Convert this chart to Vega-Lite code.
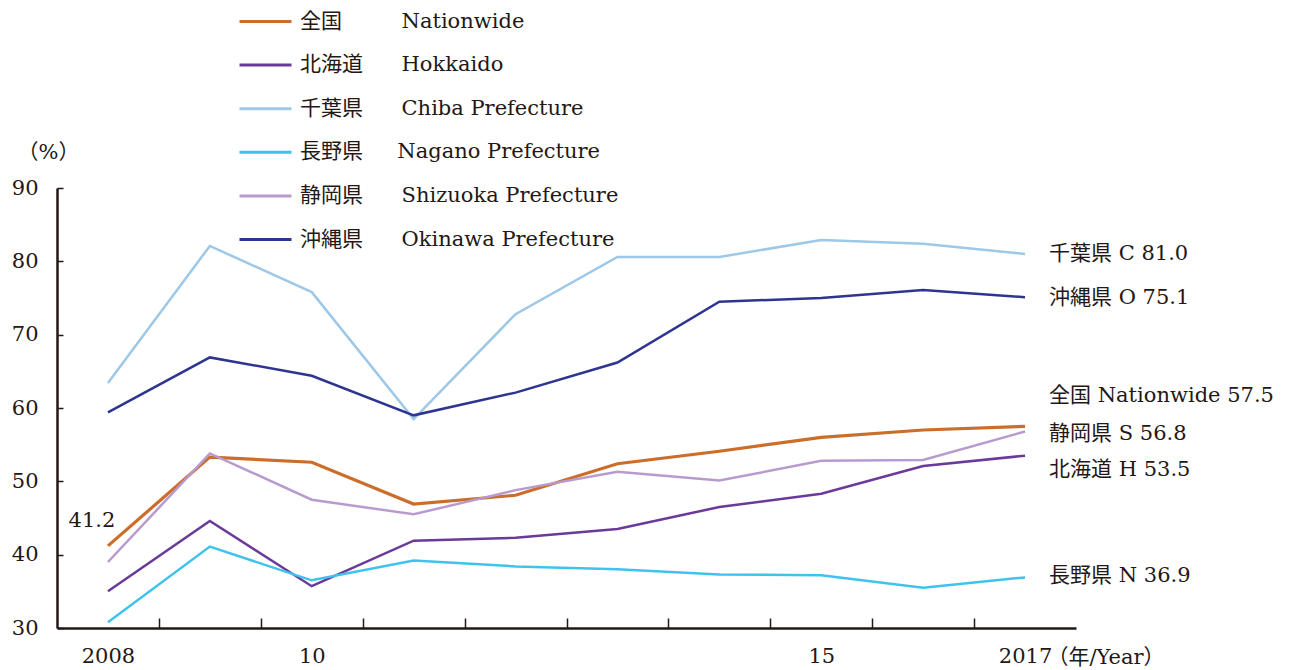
{
  "$schema": "https://vega.github.io/schema/vega-lite/v6.json",
  "width": 1019,
  "height": 440,
  "autosize": {"type": "none"},
  "padding": {"left": 57, "top": 188, "right": 224, "bottom": 42},
  "background": "white",
  "config": {
    "font": "DejaVu Serif, Noto Sans CJK JP",
    "view": {"stroke": null},
    "text": {"color": "#231815"}
  },
  "datasets": {
    "main": [
      {"year": 2008, "series": "全国", "value": 41.2},
      {"year": 2009, "series": "全国", "value": 53.3},
      {"year": 2010, "series": "全国", "value": 52.6},
      {"year": 2011, "series": "全国", "value": 46.9},
      {"year": 2012, "series": "全国", "value": 48.1},
      {"year": 2013, "series": "全国", "value": 52.4},
      {"year": 2014, "series": "全国", "value": 54.1},
      {"year": 2015, "series": "全国", "value": 56.0},
      {"year": 2016, "series": "全国", "value": 57.0},
      {"year": 2017, "series": "全国", "value": 57.5},
      {"year": 2008, "series": "北海道", "value": 35.0},
      {"year": 2009, "series": "北海道", "value": 44.6},
      {"year": 2010, "series": "北海道", "value": 35.7},
      {"year": 2011, "series": "北海道", "value": 41.9},
      {"year": 2012, "series": "北海道", "value": 42.3},
      {"year": 2013, "series": "北海道", "value": 43.5},
      {"year": 2014, "series": "北海道", "value": 46.5},
      {"year": 2015, "series": "北海道", "value": 48.3},
      {"year": 2016, "series": "北海道", "value": 52.1},
      {"year": 2017, "series": "北海道", "value": 53.5},
      {"year": 2008, "series": "千葉県", "value": 63.4},
      {"year": 2009, "series": "千葉県", "value": 82.1},
      {"year": 2010, "series": "千葉県", "value": 75.8},
      {"year": 2011, "series": "千葉県", "value": 58.5},
      {"year": 2012, "series": "千葉県", "value": 72.8},
      {"year": 2013, "series": "千葉県", "value": 80.6},
      {"year": 2014, "series": "千葉県", "value": 80.6},
      {"year": 2015, "series": "千葉県", "value": 82.9},
      {"year": 2016, "series": "千葉県", "value": 82.4},
      {"year": 2017, "series": "千葉県", "value": 81.0},
      {"year": 2008, "series": "長野県", "value": 30.8},
      {"year": 2009, "series": "長野県", "value": 41.1},
      {"year": 2010, "series": "長野県", "value": 36.5},
      {"year": 2011, "series": "長野県", "value": 39.2},
      {"year": 2012, "series": "長野県", "value": 38.4},
      {"year": 2013, "series": "長野県", "value": 38.0},
      {"year": 2014, "series": "長野県", "value": 37.3},
      {"year": 2015, "series": "長野県", "value": 37.2},
      {"year": 2016, "series": "長野県", "value": 35.5},
      {"year": 2017, "series": "長野県", "value": 36.9},
      {"year": 2008, "series": "静岡県", "value": 39.0},
      {"year": 2009, "series": "静岡県", "value": 53.8},
      {"year": 2010, "series": "静岡県", "value": 47.5},
      {"year": 2011, "series": "静岡県", "value": 45.5},
      {"year": 2012, "series": "静岡県", "value": 48.8},
      {"year": 2013, "series": "静岡県", "value": 51.3},
      {"year": 2014, "series": "静岡県", "value": 50.1},
      {"year": 2015, "series": "静岡県", "value": 52.8},
      {"year": 2016, "series": "静岡県", "value": 52.9},
      {"year": 2017, "series": "静岡県", "value": 56.8},
      {"year": 2008, "series": "沖縄県", "value": 59.4},
      {"year": 2009, "series": "沖縄県", "value": 66.9},
      {"year": 2010, "series": "沖縄県", "value": 64.4},
      {"year": 2011, "series": "沖縄県", "value": 59.0},
      {"year": 2012, "series": "沖縄県", "value": 62.1},
      {"year": 2013, "series": "沖縄県", "value": 66.2},
      {"year": 2014, "series": "沖縄県", "value": 74.5},
      {"year": 2015, "series": "沖縄県", "value": 75.0},
      {"year": 2016, "series": "沖縄県", "value": 76.1},
      {"year": 2017, "series": "沖縄県", "value": 75.1}
    ],
    "ends": [
      {"year": 2017, "value": 81.0, "label": "千葉県 C 81.0"},
      {"year": 2017, "value": 75.0, "label": "沖縄県 O 75.1"},
      {"year": 2017, "value": 61.6, "label": "全国 Nationwide 57.5"},
      {"year": 2017, "value": 56.5, "label": "静岡県 S 56.8"},
      {"year": 2017, "value": 51.6, "label": "北海道 H 53.5"},
      {"year": 2017, "value": 37.1, "label": "長野県 N 36.9"}
    ],
    "note": [
      {"year": 2008, "value": 41.2, "label": "41.2"}
    ]
  },
  "layer": [
    {
      "data": {"name": "main"},
      "mark": {"type": "line", "strokeJoin": "miter"},
      "encoding": {
        "x": {
          "field": "year",
          "type": "quantitative",
          "scale": {"domain": [2007.5, 2017.5], "nice": false, "zero": false},
          "axis": {
            "title": "（年/Year）",
            "titleFontSize": 21,
            "titleFontWeight": "normal",
            "titleColor": "#231815",
            "titleX": 990,
            "titleY": 29,
            "titleAlign": "left",
            "titleBaseline": "middle",
            "titleAnchor": null,
            "values": [2008, 2008.5, 2009.5, 2010, 2010.5, 2011.5, 2012.5, 2013.5, 2014.5, 2015, 2015.5, 2016.5, 2017],
            "labelExpr": "datum.value == 2008 ? '2008' : datum.value == 2010 ? '10' : datum.value == 2015 ? '15' : datum.value == 2017 ? '2017' : ''",
            "labelFontSize": 21,
            "labelColor": "#231815",
            "labelPadding": 27,
            "labelOverlap": false,
            "labelFlush": false,
            "grid": false,
            "domainColor": "#231815",
            "domainWidth": 2.5,
            "tickColor": "#231815",
            "tickWidth": 1.5,
            "tickSize": -10,
            "tickOpacity": {"condition": {"test": "datum.value % 1 == 0", "value": 0}, "value": 1}
          }
        },
        "y": {
          "field": "value",
          "type": "quantitative",
          "scale": {"domain": [30, 90], "nice": false, "zero": false},
          "axis": {
            "title": "（%）",
            "titleAngle": 0,
            "titleFontSize": 21,
            "titleFontWeight": "normal",
            "titleColor": "#231815",
            "titleX": -9,
            "titleY": -36,
            "titleAlign": "center",
            "titleBaseline": "middle",
            "titleAnchor": null,
            "values": [30, 40, 50, 60, 70, 80, 90],
            "labelFontSize": 21,
            "labelColor": "#231815",
            "labelPadding": 25,
            "grid": false,
            "domainColor": "#231815",
            "domainWidth": 2.5,
            "tickColor": "#231815",
            "tickWidth": 1.5,
            "tickSize": -6
          }
        },
        "color": {
          "field": "series",
          "type": "nominal",
          "scale": {
            "domain": ["全国", "北海道", "千葉県", "長野県", "静岡県", "沖縄県"],
            "range": ["#CB6D2B", "#6A3A9A", "#9DC8E8", "#3FC3EE", "#B89ACF", "#2E3590"]
          },
          "legend": {
            "orient": "none",
            "legendX": 181,
            "legendY": -194,
            "title": null,
            "symbolType": "stroke",
            "symbolSize": 2704,
            "symbolStrokeWidth": 3,
            "labelFontSize": 21,
            "labelColor": "#231815",
            "labelOffset": 7,
            "labelLimit": 0,
            "rowPadding": 5.6,
            "labelExpr": "{'全国': '全国　　 \u00a0\u2009Nationwide', '北海道': '北海道　 \u00a0\u2009Hokkaido', '千葉県': '千葉県　 \u00a0\u2009Chiba Prefecture', '長野県': '長野県　 \u00a0Nagano Prefecture', '静岡県': '静岡県　 \u00a0\u2009Shizuoka Prefecture', '沖縄県': '沖縄県　 \u00a0\u2009Okinawa Prefecture'}[datum.label]"
          }
        },
        "strokeWidth": {
          "condition": {"test": "datum.series === '全国'", "value": 3.2},
          "value": 2.5
        }
      }
    },
    {
      "data": {"name": "ends"},
      "mark": {"type": "text", "align": "left", "baseline": "middle", "dx": 24, "fontSize": 21},
      "encoding": {
        "x": {"field": "year", "type": "quantitative"},
        "y": {"field": "value", "type": "quantitative"},
        "text": {"field": "label"}
      }
    },
    {
      "data": {"name": "note"},
      "mark": {"type": "text", "align": "center", "baseline": "middle", "dx": -16, "dy": -25, "fontSize": 21},
      "encoding": {
        "x": {"field": "year", "type": "quantitative"},
        "y": {"field": "value", "type": "quantitative"},
        "text": {"field": "label"}
      }
    }
  ]
}
